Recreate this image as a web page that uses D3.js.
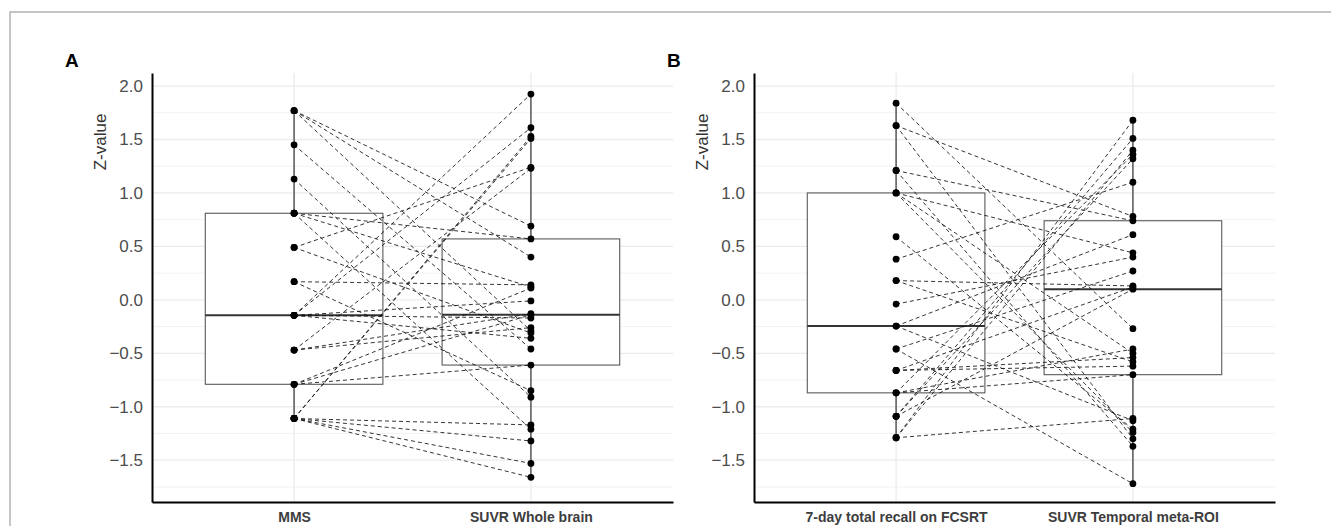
<!DOCTYPE html>
<html>
<head>
<meta charset="utf-8">
<script src="https://cdn.jsdelivr.net/npm/d3@7"></script>
<style>
  body { margin: 0; background: #fff; }
  svg { display: block; font-family: "Liberation Sans", Arial, sans-serif; }
</style>
</head>
<body>
<svg id="chart" width="1331" height="526"></svg>
<script>
const categoriesA = ['MMS', 'SUVR Whole brain'];
const categoriesB = ['7-day total recall on FCSRT', 'SUVR Temporal meta-ROI'];

// paired z-values, one entry per subject
const mms = [1.77, 1.77, 1.77, 1.45, 1.13, 0.81, 0.81, 0.81, 0.49, 0.49, 0.17, 0.17,
    -0.145, -0.145, -0.145, -0.145, -0.145, -0.47, -0.47, -0.47, -0.79, -0.79, -0.79,
    -1.11, -1.11, -1.11, -1.11, -1.11, -1.11];
const suvrWhole = [0.69, 0.40, -0.29, -0.46, -0.91, 0.57, 0.12, -1.21, 1.24, -0.31, 0.14, -0.85,
    1.925, 1.61, -0.01, -0.17, -0.36, 1.23, -0.13, -0.26, 0.11, -0.61, -0.14,
    1.53, 1.51, -1.17, -1.32, -1.53, -1.66];

const fcsrt = [1.84, 1.63, 1.63, 1.21, 1.21, 1.00, 1.00, 1.00, 0.59, 0.38, 0.18, 0.18, -0.04,
    -0.245, -0.245, -0.46, -0.46, -0.66, -0.66, -0.66, -0.87, -0.87, -0.87,
    -1.09, -1.09, -1.09, -1.29, -1.29, -1.29];
const suvrTemporal = [-0.27, 0.78, -1.30, 0.74, -1.37, 0.44, -0.50, -1.24, -1.21, 1.10, 0.13, -0.58, 0.40,
    0.61, -1.13, -1.72, 0.27, 0.12, -0.62, -0.54, 1.36, -0.46, -0.70,
    1.51, 1.32, 0.10, 1.68, 1.40, -1.11];

const yTicks = [-1.5, -1.0, -0.5, 0.0, 0.5, 1.0, 1.5, 2.0];
const yMinorTicks = [-1.75, -1.25, -0.75, -0.25, 0.25, 0.75, 1.25, 1.75];

const svg = d3.select('#chart');

// frame of the figure (only top and left edge fall inside the crop)
svg.append('path')
    .attr('d', 'M10,526 V12 H1331')
    .attr('fill', 'none')
    .attr('stroke', '#b3b3b3')
    .attr('stroke-width', 1.5);

const plotTop = 73, plotBottom = 502;
const y = d3.scaleLinear().domain([-1.891, 2.122]).range([plotBottom, plotTop]);

const boxStats = values => {
    const s = values.slice().sort(d3.ascending);
    const q1 = d3.quantile(s, 0.25);
    const med = d3.quantile(s, 0.5);
    const q3 = d3.quantile(s, 0.75);
    const iqr = q3 - q1;
    return {
        q1, med, q3,
        lo: d3.min(s.filter(v => v >= q1 - 1.5 * iqr)),
        hi: d3.max(s.filter(v => v <= q3 + 1.5 * iqr))
    };
};

const drawPanel = (left, right, tag, titleX, categories, first, second) => {
    const g = svg.append('g');
    const x = d3.scalePoint()
        .domain(categories)
        .range([left, right])
        .padding(0.6);
    const boxW = x.step() * 0.75;

    // grid
    g.selectAll('.minor')
        .data(yMinorTicks)
        .enter().append('line')
        .attr('x1', left).attr('x2', right)
        .attr('y1', d => y(d)).attr('y2', d => y(d))
        .attr('stroke', '#efefef')
        .attr('stroke-width', 0.8);
    g.selectAll('.major')
        .data(yTicks)
        .enter().append('line')
        .attr('x1', left).attr('x2', right)
        .attr('y1', d => y(d)).attr('y2', d => y(d))
        .attr('stroke', '#ebebeb')
        .attr('stroke-width', 1.3);
    g.selectAll('.vgrid')
        .data(categories)
        .enter().append('line')
        .attr('x1', d => x(d)).attr('x2', d => x(d))
        .attr('y1', plotTop).attr('y2', plotBottom)
        .attr('stroke', '#ebebeb')
        .attr('stroke-width', 1.3);

    // boxplots
    const series = [first, second].map((v, i) => ({ cat: categories[i], ...boxStats(v) }));
    const box = g.selectAll('.box')
        .data(series)
        .enter().append('g');
    box.append('line')
        .attr('x1', d => x(d.cat)).attr('x2', d => x(d.cat))
        .attr('y1', d => y(d.hi)).attr('y2', d => y(d.q3))
        .attr('stroke', '#4d4d4d').attr('stroke-width', 1.4);
    box.append('line')
        .attr('x1', d => x(d.cat)).attr('x2', d => x(d.cat))
        .attr('y1', d => y(d.q1)).attr('y2', d => y(d.lo))
        .attr('stroke', '#4d4d4d').attr('stroke-width', 1.4);
    box.append('rect')
        .attr('x', d => x(d.cat) - boxW / 2)
        .attr('width', boxW)
        .attr('y', d => y(d.q3))
        .attr('height', d => y(d.q1) - y(d.q3))
        .attr('fill', '#fff')
        .attr('stroke', '#5a5a5a')
        .attr('stroke-width', 1.1);
    box.append('line')
        .attr('x1', d => x(d.cat) - boxW / 2).attr('x2', d => x(d.cat) + boxW / 2)
        .attr('y1', d => y(d.med)).attr('y2', d => y(d.med))
        .attr('stroke', '#333').attr('stroke-width', 2);

    // paired lines
    g.selectAll('.pair')
        .data(first.map((v, i) => [v, second[i]]))
        .enter().append('line')
        .attr('x1', x(categories[0]))
        .attr('x2', x(categories[1]))
        .attr('y1', d => y(d[0]))
        .attr('y2', d => y(d[1]))
        .attr('stroke', '#111')
        .attr('stroke-width', 0.85)
        .attr('stroke-dasharray', '4,3');

    // points
    const pts = first.map(v => [categories[0], v]).concat(second.map(v => [categories[1], v]));
    g.selectAll('.pt')
        .data(pts)
        .enter().append('circle')
        .attr('cx', d => x(d[0]))
        .attr('cy', d => y(d[1]))
        .attr('r', 3.4)
        .attr('fill', '#000');

    // axes
    const yAxis = g.append('g')
        .attr('transform', `translate(${left},0)`)
        .call(d3.axisLeft(y).tickValues(yTicks).tickFormat(d3.format('.1f')).tickSize(0).tickPadding(9));
    yAxis.select('.domain').attr('stroke', '#000').attr('stroke-width', 2);
    yAxis.selectAll('text')
        .attr('fill', '#4d4d4d')
        .style('font-size', '17px');

    const xAxis = g.append('g')
        .attr('transform', `translate(0,${plotBottom})`)
        .call(d3.axisBottom(x).tickSize(0).tickPadding(10));
    xAxis.select('.domain').attr('stroke', '#000').attr('stroke-width', 2);
    xAxis.selectAll('text')
        .attr('fill', '#3d3d3d')
        .style('font-size', '14px')
        .style('font-weight', 'bold');

    g.append('text')
        .attr('transform', `translate(${titleX},142) rotate(-90)`)
        .attr('text-anchor', 'middle')
        .attr('dy', '0.35em')
        .attr('fill', '#333')
        .style('font-size', '17px')
        .text('Z-value');

    g.append('text')
        .attr('x', left - 87)
        .attr('y', 67)
        .attr('fill', '#000')
        .style('font-size', '19px')
        .style('font-weight', 'bold')
        .text(tag);
};

drawPanel(152, 673, 'A', 100, categoriesA, mms, suvrWhole);
drawPanel(754, 1275, 'B', 702, categoriesB, fcsrt, suvrTemporal);
</script>
</body>
</html>
